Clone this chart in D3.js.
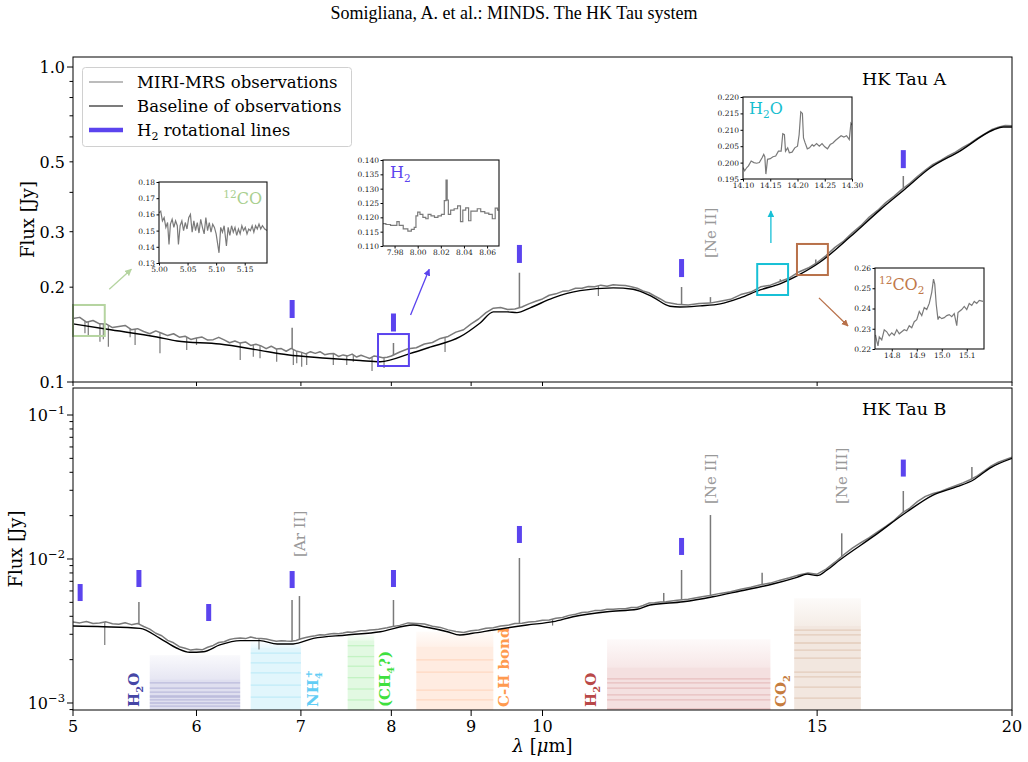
<!DOCTYPE html>
<html><head><meta charset="utf-8">
<script src="https://cdn.jsdelivr.net/npm/d3@7"></script>
<style>
body{margin:0;background:#fff}
svg text{font-family:"DejaVu Serif",serif}
</style></head><body>
<svg id="chart" width="1028" height="762"></svg>
<script>
// ---------------- DATA ----------------
const obsLam = [5.00,5.05,5.10,5.15,5.20,5.25,5.30,5.35,5.40,5.45,5.50,5.55,5.60,5.65,5.70,5.75,5.80,5.85,5.90,5.95,
6.00,6.05,6.10,6.15,6.20,6.25,6.30,6.35,6.40,6.45,6.50,6.55,6.60,6.65,6.70,6.75,6.80,6.85,6.90,6.95,
7.00,7.05,7.10,7.15,7.20,7.25,7.30,7.35,7.40,7.45,7.50,7.55,7.60,7.65,7.70,7.75,7.80,7.85,7.90,7.95,8.00,
8.1,8.2,8.3,8.4,8.5,8.6,8.7,8.8,8.9,9.0,9.1,9.2,9.3,9.4,9.5,9.6,9.7,9.8,9.9,10.0,
10.1,10.2,10.3,10.4,10.5,10.6,10.7,10.8,10.9,11.0,11.1,11.2,11.3,11.4,11.5,11.6,11.7,11.8,11.9,12.0,
12.2,12.4,12.6,12.8,13.0,13.2,13.4,13.6,13.8,14.0,14.2,14.4,14.6,14.8,15.0,15.2,15.4,15.6,15.8,16.0,
16.2,16.4,16.6,16.8,17.0,17.2,17.4,17.6,17.8,18.0,18.2,18.4,18.6,18.8,19.0,19.2,19.4,19.6,19.8,20.0];

const obsA = [0.1591,0.1604,0.1548,0.1568,0.1530,0.1529,0.1489,0.1501,0.1512,0.1466,0.1477,0.1447,0.1423,0.1453,0.1428,0.1404,0.1423,0.1388,0.1397,0.1365,
0.1380,0.1389,0.1359,0.1363,0.1386,0.1360,0.1332,0.1350,0.1329,0.1340,0.1306,0.1317,0.1302,0.1276,0.1299,0.1273,0.1277,0.1252,0.1278,0.1255,
0.1244,0.1228,0.1248,0.1233,0.1248,0.1221,0.1230,0.1231,0.1205,0.1219,0.1210,0.1226,0.1200,0.1216,0.1202,0.1188,0.1210,0.1202,0.1194,0.1199,0.1209,
0.1245,0.1275,0.1285,0.1320,0.1335,0.1375,0.1395,0.1440,0.1465,0.1530,0.1585,0.1660,0.1715,0.1725,0.1700,0.1705,0.1730,0.1770,0.1805,0.1835,
0.1885,0.1905,0.1940,0.1950,0.1985,0.1985,0.2010,0.2005,0.2030,0.2015,0.2035,0.2030,0.2025,0.2005,0.1985,0.1945,0.1920,0.1875,0.1835,0.1790,
0.1765,0.1755,0.1775,0.1780,0.1805,0.1830,0.1895,0.1930,0.2005,0.2030,0.2085,0.2140,0.2235,0.2300,0.2395,0.2520,0.2675,0.2800,0.2975,0.3135,
0.3340,0.3505,0.3710,0.3885,0.4090,0.4275,0.4500,0.4705,0.4910,0.5055,0.5220,0.5365,0.5560,0.5725,0.5940,0.6125,0.6320,0.6445,0.6520,0.6505];

const obsB = [0.00365,0.00360,0.00368,0.00357,0.00359,0.00366,0.00355,0.00352,0.00361,0.00350,0.00357,0.00340,0.00326,0.00305,0.00293,0.00272,0.00262,0.00246,0.00240,0.00233,
0.00236,0.00234,0.00244,0.00251,0.00263,0.00266,0.00276,0.00281,0.00283,0.00280,0.00287,0.00282,0.00280,0.00278,0.00273,0.00268,0.00271,0.00269,0.00268,0.00272,
0.00279,0.00285,0.00290,0.00293,0.00298,0.00297,0.00301,0.00304,0.00303,0.00306,0.00311,0.00310,0.00314,0.00318,0.00317,0.00321,0.00323,0.00325,0.00329,0.00333,0.00338,
0.00346,0.00360,0.00357,0.00354,0.00341,0.00335,0.00322,0.00314,0.00309,0.00318,0.00321,0.00330,0.00333,0.00343,0.00346,0.00356,0.00358,0.00365,0.00368,0.00376,
0.00377,0.00388,0.00392,0.00406,0.00413,0.00425,0.00428,0.00438,0.00439,0.00447,0.00447,0.00452,0.00452,0.00461,0.00460,0.00475,0.00494,0.00496,0.00503,0.00504,
0.00517,0.00526,0.00543,0.00557,0.00577,0.00592,0.00617,0.00637,0.00663,0.00680,0.00713,0.00740,0.00775,0.00800,0.00785,0.00850,0.00950,0.01070,0.01190,0.01300,
0.01405,0.01545,0.01685,0.01850,0.02080,0.02260,0.02510,0.02720,0.02850,0.02940,0.03090,0.03230,0.03380,0.03550,0.03780,0.04090,0.04430,0.04700,0.04900,0.05100];

const baseALam = [5.0,5.26,5.66,5.83,6.21,6.59,6.86,7.27,7.64,7.87,8.22,8.47,8.85,9.12,9.30,9.49,9.63,9.82,10.16,10.57,11.10,11.43,11.77,12.07,12.25,12.62,13.0,13.39,13.79,14.2,14.63,15.06,15.75,16.46,17.08,17.72,18.52,19.45,19.74,20.0];
const baseAVal = [0.153,0.147,0.139,0.135,0.132,0.126,0.122,0.119,0.117,0.116,0.123,0.129,0.139,0.154,0.167,0.167,0.166,0.172,0.185,0.195,0.199,0.197,0.186,0.174,0.173,0.1745,0.177,0.185,0.196,0.205,0.220,0.240,0.289,0.352,0.410,0.478,0.541,0.631,0.645,0.645];

const baseBLam = [5.00,5.23,5.52,5.685,5.83,5.94,6.06,6.21,6.40,6.59,6.76,6.92,7.13,7.49,7.87,8.26,8.43,8.69,8.85,9.02,9.30,9.775,10.16,10.46,11.0,11.5,11.72,12.31,12.86,13.39,14.05,14.56,14.78,15.0,15.22,15.51,16.29,17.13,17.80,18.44,18.89,19.36,20.0];
const baseBVal = [0.003424,0.003387,0.0033,0.002813,0.0024,0.00225,0.00227,0.00253,0.00271,0.00271,0.00257,0.00257,0.00281,0.002966,0.003127,0.00348,0.003355,0.003127,0.002966,0.003048,0.003214,0.00348,0.00367,0.003975,0.004306,0.004473,0.004793,0.005051,0.005473,0.005995,0.006705,0.007462,0.00785,0.00766,0.008387,0.009842,0.01429,0.0213,0.0278,0.03178,0.03537,0.04283,0.05003];

// emission lines / absorption dips in the observed spectra
const lineALam = [6.910,8.025,9.665,12.279,12.814,14.206,14.970,17.035];
const lineAPeak = [0.1487,0.1330,0.2223,0.2003,0.186,0.2120,0.2450,0.4508];
const dipALam = [5.089,5.114,5.203,5.229,5.268,5.44,5.48,5.685,5.914,6.00,6.40,6.525,6.59,6.754,6.922,6.957,7.008,7.06,7.343,7.49,7.563,7.775,7.914,8.66,10.86];
const dipAVal = [0.1428,0.140,0.1342,0.1366,0.1294,0.1386,0.1311,0.1233,0.1263,0.1311,0.1175,0.1203,0.1189,0.1160,0.1132,0.1146,0.1118,0.1132,0.1132,0.1132,0.1160,0.1084,0.1108,0.1245,0.1875];
const lineBLam = [5.511,6.909,6.985,8.025,9.665,11.96,12.279,12.814,13.83,15.555,17.035,18.85];
const lineBPeak = [0.00503,0.00519,0.00553,0.00519,0.01016,0.00581,0.00839,0.0202,0.00803,0.01508,0.02967,0.0435];
const dipBLam = [5.24,6.58,10.15];
const dipBVal = [0.00253,0.00235,0.00345];

// H2 rotational line markers
const h2Lam = [5.053,5.511,6.109,6.910,8.025,9.665,12.279,17.035];
const h2MarkA = [null,null,null,0.1705,0.1545,0.255,0.230,0.51];
const h2MarkB = [0.00585,0.00732,0.00425,0.00720,0.00732,0.0148,0.01222,0.0428];

// ionic line labels
const ionALabel = ["[Ne II]"], ionALam = [12.814], ionAAt = [0.2475];
const ionBLabel = ["[Ar II]","[Ne II]","[Ne III]"], ionBLam = [6.985,12.814,15.555], ionBAt = [0.01033,0.0241,0.0241];

// molecular bands (bottom panel)
const bandName = [["H","2","O"],["NH","4","+"],["(CH","4","?)"],["C-H bond"],["H","2","O"],["CO","2",""]];
const bandLo = [5.6,6.5,7.5,8.3,11.0,14.5];
const bandHi = [6.4,7.0,7.8,9.3,14.0,16.0];
const bandTop = [0.00215,0.00267,0.00297,0.00313,0.00277,0.00534];
const bandMid = [0.00145,0.0024,0.0027,0.00245,0.00176,0.00342];
const bandStripes = [
  [0.00138,0.00127,0.00119,0.00112,0.00110,0.00105,0.00100,0.00095],
  [0.00222,0.0019,0.00162,0.00133,0.0011],
  [0.0025,0.0021,0.0018,0.0015,0.00125,0.00105],
  [0.00199,0.00164,0.00123,0.00105],
  [0.00147,0.00138,0.00127,0.00114,0.00105,0.00091],
  [0.00321,0.00297,0.00261,0.00233,0.00205,0.00164,0.00152,0.00129,0.00108]];
const bandLabelLam = [5.47,7.12,7.925,9.44,10.74,14.21];
const bandColor = ["#3f3fa0","#4fc8f0","#55dd55","#ff9050","#c04848","#b07040"];
const bandTextColor = ["#4646a6","#62cdf5","#3fe03f","#ff9a4f","#b94848","#c67c3e"];

// zoom boxes (top panel) and arrows
const boxLam0 = [5.00,7.844,13.73,14.56], boxLam1 = [5.24,8.21,14.37,15.24];
const boxF0 = [0.140,0.1124,0.1889,0.2186], boxF1 = [0.1756,0.142,0.2369,0.2743];
const boxColor = ["#b5d4a0","#5b44ee","#17c0d6","#b8714a"];
const arrLam0 = [5.275,8.23,14.01,15.04], arrF0 = [0.1969,0.1632,0.2762,0.1850];
const arrLam1 = [5.45,8.46,14.01,15.70], arrF1 = [0.2279,0.2279,0.349,0.1506];

// inset spectra
const coLam = [5.000,5.003,5.006,5.009,5.012,5.015,5.0175,5.020,5.023,5.026,5.029,5.032,5.034,5.037,5.040,5.043,5.046,5.049,5.052,5.055,5.058,5.061,5.064,5.067,5.070,5.073,5.076,5.079,5.082,5.085,5.088,5.091,5.094,5.097,5.100,5.105,5.108,5.111,5.114,5.118,5.121,5.124,5.127,5.130,5.133,5.136,5.139,5.142,5.145,5.148,5.151,5.154,5.157,5.160,5.163,5.166,5.169,5.172,5.175,5.178,5.181,5.185,5.189];
const coVal = [0.161,0.162,0.156,0.158,0.152,0.155,0.1415,0.154,0.157,0.152,0.156,0.153,0.1415,0.153,0.156,0.150,0.155,0.151,0.158,0.160,0.149,0.156,0.150,0.155,0.1485,0.157,0.152,0.148,0.158,0.150,0.155,0.149,0.154,0.152,0.148,0.1363,0.152,0.149,0.153,0.1405,0.152,0.147,0.153,0.149,0.152,0.147,0.151,0.148,0.153,0.150,0.152,0.148,0.151,0.150,0.153,0.149,0.153,0.151,0.154,0.151,0.153,0.151,0.150];
const h2Lam2 = [7.970,7.975,7.978,7.981,7.983,7.985,7.990,7.993,7.996,7.998,7.999,8.001,8.003,8.006,8.008,8.010,8.013,8.016,8.019,8.022,8.024,8.025,8.026,8.027,8.030,8.033,8.036,8.038,8.040,8.043,8.045,8.047,8.050,8.053,8.056,8.060,8.063,8.066,8.068,8.070];
const h2Val2 = [0.1178,0.1175,0.1172,0.1172,0.1185,0.1172,0.1160,0.1152,0.1158,0.1165,0.1205,0.1218,0.1210,0.1200,0.1195,0.1210,0.1205,0.1200,0.1205,0.1210,0.1258,0.1330,0.1260,0.1210,0.1225,0.1230,0.1240,0.1185,0.1225,0.1233,0.1188,0.1222,0.1222,0.1230,0.1220,0.1215,0.1210,0.1195,0.1232,0.1225];
const h2oLam = [14.100,14.103,14.107,14.110,14.115,14.120,14.125,14.130,14.135,14.138,14.140,14.142,14.145,14.150,14.155,14.160,14.165,14.170,14.173,14.176,14.178,14.182,14.185,14.190,14.195,14.200,14.203,14.206,14.209,14.211,14.214,14.218,14.222,14.227,14.230,14.235,14.240,14.245,14.250,14.255,14.260,14.265,14.270,14.275,14.280,14.285,14.290,14.295,14.298,14.300];
const h2oVal = [0.1985,0.1975,0.1985,0.1990,0.2005,0.2000,0.1998,0.2000,0.2015,0.2025,0.2018,0.1965,0.2010,0.2012,0.2018,0.2020,0.2035,0.2035,0.2088,0.2085,0.2035,0.2045,0.2030,0.2032,0.2045,0.2050,0.2085,0.2155,0.2150,0.2075,0.2060,0.2042,0.2045,0.2055,0.2050,0.2058,0.2050,0.2058,0.2048,0.2042,0.2055,0.2060,0.2068,0.2075,0.2082,0.2078,0.2082,0.2070,0.2120,0.2115];
const co2Lam = [14.735,14.740,14.745,14.750,14.760,14.770,14.780,14.790,14.800,14.810,14.820,14.830,14.840,14.850,14.860,14.870,14.880,14.890,14.900,14.910,14.920,14.930,14.940,14.950,14.960,14.967,14.972,14.978,14.985,14.990,15.000,15.010,15.020,15.030,15.040,15.050,15.060,15.065,15.070,15.080,15.090,15.100,15.110,15.120,15.130,15.140,15.150,15.165];
const co2Val = [0.227,0.224,0.2215,0.226,0.2245,0.2295,0.2285,0.2265,0.2280,0.2268,0.2295,0.2275,0.2285,0.2295,0.2290,0.2315,0.2305,0.2335,0.2345,0.2385,0.2365,0.2405,0.2395,0.2425,0.2480,0.2545,0.2520,0.2420,0.2345,0.2360,0.2350,0.2355,0.2365,0.2370,0.2360,0.2375,0.2315,0.2380,0.2385,0.2395,0.2410,0.2395,0.2425,0.2415,0.2435,0.2425,0.2440,0.2435];

// tick values
const xTicks = [5,6,7,8,9,10,15,20];
const yTicksA = [0.1,0.2,0.3,0.5,1.0];
const yMinorA = [0.4,0.6,0.7,0.8,0.9];
const yTicksB = [1e-3,1e-2,1e-1];
const yTickBLabel = ["\u22123","\u22122","\u22121"];
const yMinorB = [9e-4,2e-3,3e-3,4e-3,5e-3,6e-3,7e-3,8e-3,9e-3,2e-2,3e-2,4e-2,5e-2,6e-2,7e-2,8e-2,9e-2];

// ---------------- DRAW ----------------
const svg = d3.select("#chart");
const L = 73, R = 1012;
const A = {top:57, bot:382}, B = {top:388, bot:710};
const x = d3.scaleLog().domain([5,20]).range([L,R]);
const yA = d3.scaleLog().domain([0.1,1.076]).range([A.bot,A.top]);
const yB = d3.scaleLog().domain([8.94e-4,0.154]).range([B.bot,B.top]);
const GRAY = "#7a7a7a", H2C = "#5b44ee";
const defs = svg.append("defs");
[["clipA",A],["clipB",B]].forEach(([id,p])=>{
  defs.append("clipPath").attr("id",id).append("rect").attr("x",L).attr("y",p.top).attr("width",R-L).attr("height",p.bot-p.top);
});

function interpAt(lams, vals, l){
  const i = d3.bisectLeft(lams, l);
  if (i<=0) return vals[0];
  if (i>=lams.length) return vals[vals.length-1];
  const t = (l-lams[i-1])/(lams[i]-lams[i-1]);
  return vals[i-1]*Math.pow(vals[i]/vals[i-1], t);
}

// title
svg.append("text").attr("x",514).attr("y",19).attr("text-anchor","middle")
  .style("font-family","'Liberation Serif',serif").style("font-size","18px").text("Somigliana, A. et al.: MINDS. The HK Tau system");

// bands (bottom panel)
const gb = svg.append("g").attr("clip-path","url(#clipB)");
bandLo.forEach((lo,i)=>{
  const x0=x(lo), x1=x(bandHi[i]), yt=yB(bandTop[i]), ym=yB(bandMid[i]);
  const gid="bg"+i;
  const lg=defs.append("linearGradient").attr("id",gid).attr("x1",0).attr("y1",0).attr("x2",0).attr("y2",1);
  lg.append("stop").attr("offset","0%").attr("stop-color",bandColor[i]).attr("stop-opacity",0.03);
  lg.append("stop").attr("offset","100%").attr("stop-color",bandColor[i]).attr("stop-opacity",0.13);
  gb.append("rect").attr("x",x0).attr("y",yt).attr("width",x1-x0).attr("height",Math.max(0,ym-yt)).attr("fill",`url(#${gid})`);
  gb.append("rect").attr("x",x0).attr("y",ym).attr("width",x1-x0).attr("height",B.bot-ym).attr("fill",bandColor[i]).attr("fill-opacity",0.17);
  bandStripes[i].forEach(v=>{
    gb.append("line").attr("x1",x0).attr("x2",x1).attr("y1",yB(v)).attr("y2",yB(v)).attr("stroke",bandColor[i]).attr("stroke-opacity",0.22).attr("stroke-width",1.3);
  });
  const t = svg.append("text").attr("transform",`translate(${x(bandLabelLam[i])+5.5},707) rotate(-90)`)
    .attr("fill",bandTextColor[i]).style("font-weight","bold").style("font-size","15px");
  const parts = bandName[i];
  t.append("tspan").text(parts[0]);
  if (parts.length>1){
    if (parts[2]==="+"){
      t.append("tspan").attr("dy",4).style("font-size","10px").text(parts[1]);
      t.append("tspan").attr("dx",-6).attr("dy",-10).style("font-size","10px").text("+");
    } else {
      t.append("tspan").attr("dy",4).style("font-size","10px").text(parts[1]);
      t.append("tspan").attr("dy",-4).text(parts[2]);
    }
  }
});

// spectra
const line = (ys)=>d3.line().x((d,i)=>x(obsLam[i])).y(d=>ys(d));
function drawSpec(clip, ys, obs, bLam, bVal, lLam, lPk, dLam, dVal){
  const g = svg.append("g").attr("clip-path",`url(#${clip})`);
  g.append("path").attr("d",line(ys)(obs)).attr("fill","none").attr("stroke",GRAY).attr("stroke-width",1.5).attr("stroke-linejoin","round");
  lLam.forEach((l,i)=>{
    g.append("line").attr("x1",x(l)).attr("x2",x(l)).attr("y1",ys(interpAt(obsLam,obs,l))).attr("y2",ys(lPk[i]))
      .attr("stroke",GRAY).attr("stroke-width",1.5);
  });
  dLam.forEach((l,i)=>{
    g.append("line").attr("x1",x(l)).attr("x2",x(l)).attr("y1",ys(interpAt(obsLam,obs,l))).attr("y2",ys(dVal[i]))
      .attr("stroke",GRAY).attr("stroke-width",1.2);
  });
  g.append("path").datum(bLam.map((l,i)=>[l,bVal[i]]))
    .attr("d",d3.line().x(d=>x(d[0])).y(d=>ys(d[1])).curve(d3.curveMonotoneX))
    .attr("fill","none").attr("stroke","#000").attr("stroke-width",1.4);
}
drawSpec("clipA", yA, obsA, baseALam, baseAVal, lineALam, lineAPeak, dipALam, dipAVal);
drawSpec("clipB", yB, obsB, baseBLam, baseBVal, lineBLam, lineBPeak, dipBLam, dipBVal);

// H2 markers
h2Lam.forEach((l,i)=>{
  if (h2MarkA[i]!==null) svg.append("rect").attr("x",x(l)-2.5).attr("y",yA(h2MarkA[i])-9).attr("width",5).attr("height",18).attr("fill",H2C);
  svg.append("rect").attr("x",x(l)-2.5).attr("y",yB(h2MarkB[i])-8.5).attr("width",5).attr("height",17).attr("fill",H2C);
});

// ion labels
function ionLabels(labels, lams, at, ys){
  labels.forEach((s,i)=>{
    svg.append("text").attr("transform",`translate(${x(lams[i])+5.5},${ys(at[i])}) rotate(-90)`)
      .attr("fill","#999").style("font-size","15px").text(s);
  });
}
ionLabels(ionALabel, ionALam, ionAAt, yA);
ionLabels(ionBLabel, ionBLam, ionBAt, yB);

// boxes + arrows
const mk = defs.selectAll("marker").data(boxColor).enter().append("marker")
  .attr("id",(d,i)=>"ah"+i).attr("viewBox","0 0 10 10").attr("refX",9).attr("refY",5)
  .attr("markerWidth",7).attr("markerHeight",7).attr("markerUnits","userSpaceOnUse").attr("orient","auto");
mk.append("path").attr("d","M0,0 L10,5 L0,10 Z").attr("fill",d=>d);
boxLam0.forEach((l,i)=>{
  svg.append("rect").attr("x",x(l)).attr("y",yA(boxF1[i])).attr("width",x(boxLam1[i])-x(l)).attr("height",yA(boxF0[i])-yA(boxF1[i]))
    .attr("fill","none").attr("stroke",boxColor[i]).attr("stroke-width",2);
  svg.append("line").attr("x1",x(arrLam0[i])).attr("y1",yA(arrF0[i])).attr("x2",x(arrLam1[i])).attr("y2",yA(arrF1[i]))
    .attr("stroke",boxColor[i]).attr("stroke-width",1.3).attr("marker-end",`url(#ah${i})`);
});

// insets
function inset(cfg){
  const g = svg.append("g");
  const ix = d3.scaleLinear().domain(cfg.xd).range([cfg.x0,cfg.x0+cfg.w]);
  const iy = d3.scaleLinear().domain(cfg.yd).range([cfg.y0+cfg.h,cfg.y0]);
  g.append("rect").attr("x",cfg.x0).attr("y",cfg.y0).attr("width",cfg.w).attr("height",cfg.h).attr("fill","#fff");
  const cid = "ic"+cfg.id;
  defs.append("clipPath").attr("id",cid).append("rect").attr("x",cfg.x0).attr("y",cfg.y0).attr("width",cfg.w).attr("height",cfg.h);
  g.append("path").attr("clip-path",`url(#${cid})`)
    .attr("d",d3.line().x((d,i)=>ix(cfg.lam[i])).y(d=>iy(d)).curve(cfg.step?d3.curveStep:d3.curveLinear)(cfg.val))
    .attr("fill","none").attr("stroke",GRAY).attr("stroke-width",1.2);
  const ax = g.append("g").attr("transform",`translate(0,${cfg.y0+cfg.h})`)
    .call(d3.axisBottom(ix).tickValues(cfg.xt).tickFormat(d3.format(cfg.xf)).tickSize(2.5).tickPadding(1.5));
  const ay = g.append("g").attr("transform",`translate(${cfg.x0},0)`)
    .call(d3.axisLeft(iy).tickValues(cfg.yt).tickFormat(d3.format(cfg.yf)).tickSize(2.5).tickPadding(1.5));
  [ax,ay].forEach(a=>{a.select(".domain").remove(); a.selectAll("text").style("font-size","7.5px").style("font-family","'DejaVu Serif',serif").attr("fill","#222");});
  g.append("rect").attr("x",cfg.x0).attr("y",cfg.y0).attr("width",cfg.w).attr("height",cfg.h).attr("fill","none").attr("stroke","#111").attr("stroke-width",1.1);
  const t = g.append("text").attr("x",cfg.lx).attr("y",cfg.ly).attr("fill",cfg.color).attr("text-anchor",cfg.anchor).style("font-size","16px");
  cfg.label.forEach(p=>{
    const ts = t.append("tspan").text(p.t);
    if (p.sup) ts.style("font-size","10.5px").attr("dy",-6);
    if (p.sub) ts.style("font-size","10.5px").attr("dy",4);
    if (p.back) ts.attr("dy",p.back);
  });
}
inset({id:1,x0:159,y0:182,w:108,h:81,xd:[5.0,5.189],yd:[0.13,0.18],lam:coLam,val:coVal,
  xt:[5.00,5.05,5.10,5.15],xf:".2f",yt:[0.13,0.14,0.15,0.16,0.17,0.18],yf:".2f",
  label:[{t:"12",sup:true},{t:"CO",back:6}],color:"#a9cf8f",lx:262,ly:204,anchor:"end"});
inset({id:2,x0:383,y0:160,w:116,h:86,xd:[7.970,8.0703],yd:[0.110,0.140],lam:h2Lam2,val:h2Val2,step:true,
  xt:[7.98,8.00,8.02,8.04,8.06],xf:".2f",yt:[0.110,0.115,0.120,0.125,0.130,0.135,0.140],yf:".3f",
  label:[{t:"H"},{t:"2",sub:true}],color:H2C,lx:390,ly:178,anchor:"start"});
inset({id:3,x0:743,y0:97,w:109,h:82,xd:[14.10,14.30],yd:[0.195,0.220],lam:h2oLam,val:h2oVal,
  xt:[14.10,14.15,14.20,14.25,14.30],xf:".2f",yt:[0.195,0.200,0.205,0.210,0.215,0.220],yf:".3f",
  label:[{t:"H"},{t:"2",sub:true},{t:"O",back:-4}],color:"#17becf",lx:749,ly:114,anchor:"start"});
inset({id:4,x0:875,y0:268,w:109,h:81,xd:[14.733,15.169],yd:[0.22,0.26],lam:co2Lam,val:co2Val,
  xt:[14.8,14.9,15.0,15.1],xf:".1f",yt:[0.22,0.23,0.24,0.25,0.26],yf:".2f",
  label:[{t:"12",sup:true},{t:"CO",back:6},{t:"2",sub:true}],color:"#c0784a",lx:879,ly:290,anchor:"start"});

// axes frames & ticks
[A,B].forEach(p=>{
  svg.append("rect").attr("x",L).attr("y",p.top).attr("width",R-L).attr("height",p.bot-p.top).attr("fill","none").attr("stroke","#000").attr("stroke-width",1);
});
xTicks.forEach(v=>{
  svg.append("line").attr("x1",x(v)).attr("x2",x(v)).attr("y1",A.bot).attr("y2",A.bot+4).attr("stroke","#000");
  svg.append("line").attr("x1",x(v)).attr("x2",x(v)).attr("y1",B.bot).attr("y2",B.bot+6).attr("stroke","#000");
  svg.append("text").attr("x",x(v)).attr("y",B.bot+22).attr("text-anchor","middle").style("font-size","16px").text(v);
});
yTicksA.forEach(v=>{
  const big = (v===0.1||v===1.0);
  svg.append("line").attr("x1",L-(big?6:3.5)).attr("x2",L).attr("y1",yA(v)).attr("y2",yA(v)).attr("stroke","#000");
  svg.append("text").attr("x",L-8).attr("y",yA(v)+6).attr("text-anchor","end").style("font-size","16px").text(d3.format(".1f")(v));
});
yMinorA.forEach(v=>svg.append("line").attr("x1",L-3.5).attr("x2",L).attr("y1",yA(v)).attr("y2",yA(v)).attr("stroke","#000"));
yTicksB.forEach((v,i)=>{
  svg.append("line").attr("x1",L-6).attr("x2",L).attr("y1",yB(v)).attr("y2",yB(v)).attr("stroke","#000");
  const t = svg.append("text").attr("x",L-8).attr("y",yB(v)+6).attr("text-anchor","end").style("font-size","16px");
  t.append("tspan").text("10");
  t.append("tspan").attr("dy",-7).style("font-size","11.5px").text(yTickBLabel[i]);
});
yMinorB.forEach(v=>svg.append("line").attr("x1",L-3.5).attr("x2",L).attr("y1",yB(v)).attr("y2",yB(v)).attr("stroke","#000"));

// axis labels
svg.append("text").attr("transform",`translate(34,${(A.top+A.bot)/2}) rotate(-90)`).attr("text-anchor","middle").style("font-size","18px").text("Flux [Jy]");
svg.append("text").attr("transform",`translate(22,${(B.top+B.bot)/2}) rotate(-90)`).attr("text-anchor","middle").style("font-size","18px").text("Flux [Jy]");
const xl = svg.append("text").attr("x",(L+R)/2).attr("y",752).attr("text-anchor","middle").style("font-size","18px");
xl.append("tspan").style("font-style","italic").text("λ");
xl.append("tspan").text(" [");
xl.append("tspan").style("font-style","italic").text("μ");
xl.append("tspan").text("m]");

// panel titles
svg.append("text").attr("x",862).attr("y",85).style("font-size","17.5px").text("HK Tau A");
svg.append("text").attr("x",862).attr("y",415).style("font-size","17.5px").text("HK Tau B");

// legend
const lgd = svg.append("g");
lgd.append("rect").attr("x",82.5).attr("y",67.5).attr("width",269).attr("height",79).attr("rx",3)
  .attr("fill","#fff").attr("fill-opacity",0.85).attr("stroke","#d0d0d0");
const legText = ["MIRI-MRS observations","Baseline of observations","rotational lines"];
const legColor = ["#a6a6a6","#505050",H2C], legW = [1.3,1.3,4.5], legY = [82,106,130];
legText.forEach((s,i)=>{
  lgd.append("line").attr("x1",89).attr("x2",123).attr("y1",legY[i]).attr("y2",legY[i]).attr("stroke",legColor[i]).attr("stroke-width",legW[i]);
  const t = lgd.append("text").attr("x",137).attr("y",legY[i]+6).style("font-size","16.5px");
  if (i===2){ t.append("tspan").text("H"); t.append("tspan").attr("dy",4).style("font-size","11px").text("2"); t.append("tspan").attr("dy",-4).text(" "+s); }
  else t.text(s);
});
</script></body></html>
